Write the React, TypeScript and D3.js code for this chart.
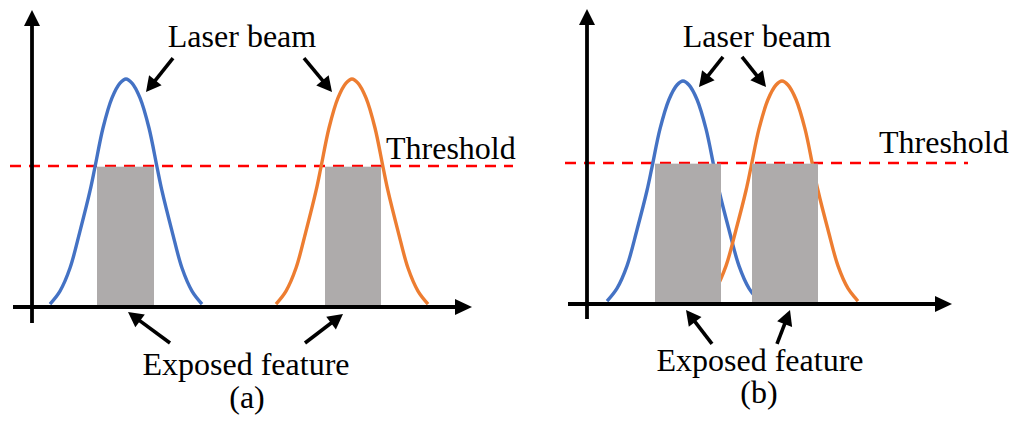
import React from "react";
import * as d3 from "d3";

// ---- Data ----
// Beam intensity profile: offset from beam centre (arbitrary length units) and relative intensity
const profileOffsets = [-19, -16.5, -14, -11.5, -9, -7.75, -5.75, -3.5, -1.5, 0, 1.5, 3.5, 5.75, 7.75, 9, 11.5, 14, 16.5, 19];
const profileIntensity = [0.013, 0.07, 0.171, 0.333, 0.509, 0.614, 0.785, 0.917, 0.982, 1.0, 0.982, 0.917, 0.785, 0.614, 0.509, 0.333, 0.171, 0.07, 0.013];

const beamColors = ["#4472C4", "#ED7D31"];

// Panel (a): well separated beams
const beamCentersA = [23.5, 80];
const featuresA: [number, number][] = [[16.25, 30.5], [73.25, 87.25]];
const thresholdA = 0.618;

// Panel (b): overlapping beams
const beamCentersB = [24, 48.75];
const featuresB: [number, number][] = [[17, 33.5], [41.25, 57.75]];
const thresholdB = 0.632;

// Annotation arrows: [tailX, tailY, tipX, tipY] in data units
const beamArrowsA = [[35.25, 1.092, 28.5, 0.943], [68, 1.092, 75, 0.943]];
const featureArrowsA = [[34.5, -0.158, 24, -0.022], [68.25, -0.158, 77.75, -0.031]];
const beamArrowsB = [[34, 1.108, 28, 0.973], [38.75, 1.108, 44.75, 0.973]];
const featureArrowsB = [[31.25, -0.179, 24.75, -0.027], [47.5, -0.179, 50.75, -0.027]];

const labelBeam = "Laser beam";
const labelThreshold = "Threshold";
const labelFeature = "Exposed feature";
const panelLabels = ["(a)", "(b)"];

// ---- Layout ----
const W = 1013;
const H = 421;
const FONT = "'Liberation Serif', 'Times New Roman', serif";

type Layout = {
  x0: number; y0: number; ppu: number; peak: number;
  xAxis: [number, number]; yAxis: [number, number]; dash: [number, number];
  beamLabel: [number, number]; thrLabel: [number, number]; featLabel: [number, number]; panelLabel: [number, number];
};

const layoutA: Layout = {
  x0: 32, y0: 307, ppu: 4, peak: 228,
  xAxis: [-4.75, 110], yAxis: [-0.07, 1.303], dash: [-5.5, 120.25],
  beamLabel: [242, 47], thrLabel: [386, 159], featLabel: [246, 375], panelLabel: [247, 408],
};
const layoutB: Layout = {
  x0: 587, y0: 304, ppu: 4, peak: 223,
  xAxis: [-4.75, 91.25], yAxis: [-0.067, 1.323], dash: [-5.5, 95.25],
  beamLabel: [757, 47], thrLabel: [879, 153], featLabel: [760, 371], panelLabel: [759, 403],
};

function ArrowHead({ x1, y1, x2, y2, len, half }: { x1: number; y1: number; x2: number; y2: number; len: number; half: number }) {
  const ang = Math.atan2(y2 - y1, x2 - x1);
  const bx = x2 - len * Math.cos(ang);
  const by = y2 - len * Math.sin(ang);
  const px = -Math.sin(ang) * half;
  const py = Math.cos(ang) * half;
  return <polygon points={`${x2},${y2} ${bx + px},${by + py} ${bx - px},${by - py}`} fill="#000" />;
}

function Arrow({ x1, y1, x2, y2, width, len, half }: { x1: number; y1: number; x2: number; y2: number; width: number; len: number; half: number }) {
  const ang = Math.atan2(y2 - y1, x2 - x1);
  const ex = x2 - (len - 1) * Math.cos(ang);
  const ey = y2 - (len - 1) * Math.sin(ang);
  return (
    <g>
      <line x1={x1} y1={y1} x2={ex} y2={ey} stroke="#000" strokeWidth={width} />
      <ArrowHead x1={x1} y1={y1} x2={x2} y2={y2} len={len} half={half} />
    </g>
  );
}

function Panel({ L, centers, features, threshold, beamArrows, featureArrows, panelLabel }: {
  L: Layout; centers: number[]; features: [number, number][]; threshold: number;
  beamArrows: number[][]; featureArrows: number[][]; panelLabel: string;
}) {
  const x = d3.scaleLinear().domain([0, 100]).range([L.x0, L.x0 + 100 * L.ppu]);
  const y = d3.scaleLinear().domain([0, 1]).range([L.y0, L.y0 - L.peak]);
  const line = d3.line<[number, number]>()
    .x((d) => x(d[0]))
    .y((d) => y(d[1]))
    .curve(d3.curveCatmullRom.alpha(0.5));

  const ty = y(threshold);
  return (
    <g>
      {/* threshold */}
      <line x1={x(L.dash[0])} x2={x(L.dash[1])} y1={ty} y2={ty} stroke="#FF0000" strokeWidth={2.5} strokeDasharray="11,8" />
      {/* beams */}
      {centers.map((c, i) => (
        <path key={i}
          d={line(profileOffsets.map((o, j) => [c + o, profileIntensity[j]] as [number, number])) || ""}
          fill="none" stroke={beamColors[i]} strokeWidth={3.4} strokeLinecap="butt" />
      ))}
      {/* exposed features */}
      {features.map((f, i) => (
        <rect key={i} x={x(f[0])} y={ty + 0.6} width={x(f[1]) - x(f[0])} height={y(0) - ty - 0.6} fill="#AEABAB" />
      ))}
      {/* axes */}
      <Arrow x1={x(0)} y1={y(L.yAxis[0])} x2={x(0)} y2={y(L.yAxis[1])} width={3.8} len={16} half={8} />
      <Arrow x1={x(L.xAxis[0])} y1={y(0)} x2={x(L.xAxis[1])} y2={y(0)} width={3.8} len={17} half={8} />
      {/* annotation arrows */}
      {[...beamArrows, ...featureArrows].map((a, i) => (
        <Arrow key={i} x1={x(a[0])} y1={y(a[1])} x2={x(a[2])} y2={y(a[3])} width={3.6} len={15} half={8} />
      ))}
      {/* labels */}
      <g fontFamily={FONT} fontSize={32} fill="#000">
        <text x={L.beamLabel[0]} y={L.beamLabel[1]} textAnchor="middle">{labelBeam}</text>
        <text x={L.thrLabel[0]} y={L.thrLabel[1]} textAnchor="start">{labelThreshold}</text>
        <text x={L.featLabel[0]} y={L.featLabel[1]} textAnchor="middle">{labelFeature}</text>
        <text x={L.panelLabel[0]} y={L.panelLabel[1]} textAnchor="middle">{panelLabel}</text>
      </g>
    </g>
  );
}

export default function App() {
  return (
    <svg width={W} height={H} viewBox={`0 0 ${W} ${H}`} style={{ position: "absolute", left: 0, top: 0, background: "#fff" }}>
      <rect x={0} y={0} width={W} height={H} fill="#fff" />
      <Panel L={layoutA} centers={beamCentersA} features={featuresA} threshold={thresholdA}
        beamArrows={beamArrowsA} featureArrows={featureArrowsA} panelLabel={panelLabels[0]} />
      <Panel L={layoutB} centers={beamCentersB} features={featuresB} threshold={thresholdB}
        beamArrows={beamArrowsB} featureArrows={featureArrowsB} panelLabel={panelLabels[1]} />
    </svg>
  );
}
